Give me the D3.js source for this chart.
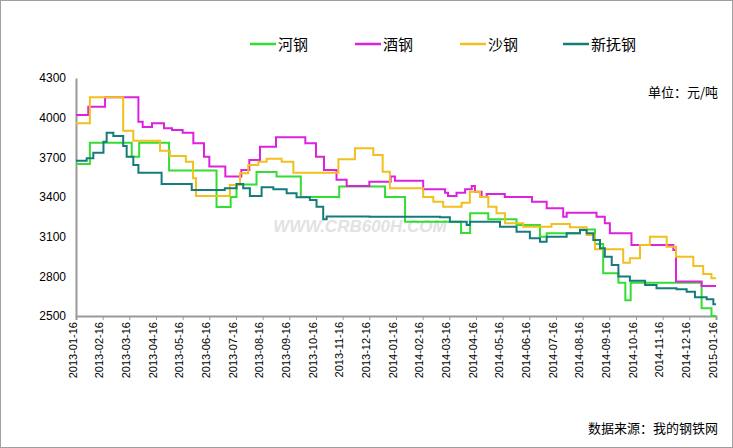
<!DOCTYPE html>
<html>
<head>
<meta charset="utf-8">
<script src="https://cdn.jsdelivr.net/npm/d3@7"></script>
<style>
  body { margin: 0; background: #fff; }
  svg { font-family: "SimSun", "Noto Sans CJK SC", sans-serif; }
</style>
</head>
<body>
<div id="chart"></div>
<script>
// x = month index from 2013-01-16, step-after series
const monthLabels = ["2013-01-16","2013-02-16","2013-03-16","2013-04-16","2013-05-16","2013-06-16","2013-07-16","2013-08-16","2013-09-16","2013-10-16","2013-11-16","2013-12-16","2014-01-16","2014-02-16","2014-03-16","2014-04-16","2014-05-16","2014-06-16","2014-07-16","2014-08-16","2014-09-16","2014-10-16","2014-11-16","2014-12-16","2015-01-16"];
const yTicks = [2500, 2800, 3100, 3400, 3700, 4000, 4300];

const hegang = [[0,3650],[0.52,3810],[2.09,3705],[2.37,3810],[3.49,3600],[5.27,3325],[5.8,3400],[6.02,3495],[6.77,3590],[7.52,3555],[8.43,3400],[9.87,3480],[11.59,3400],[12.34,3213],[14.44,3127],[14.78,3277],[15.46,3232],[16.52,3188],[17.4,3100],[17.65,3125],[18.9,3155],[19.46,3045],[19.77,2823],[20.34,2752],[20.6,2620],[20.8,2752],[23.46,2558],[23.83,2500],[24,2500]];
const jiugang = [[0,4020],[0.46,4083],[1.09,4154],[2.34,3970],[2.5,3930],[2.85,3957],[3.3,3920],[3.6,3907],[4.0,3886],[4.4,3806],[4.8,3705],[5.0,3630],[5.6,3555],[6.2,3604],[6.5,3680],[6.9,3780],[7.5,3852],[8.6,3806],[9.0,3705],[9.3,3604],[9.77,3530],[10.15,3483],[11.0,3516],[11.8,3555],[11.96,3523],[13.02,3458],[13.84,3433],[13.95,3408],[14.27,3433],[14.59,3458],[14.84,3483],[14.96,3440],[15.21,3400],[15.4,3423],[16.08,3400],[17.1,3365],[17.65,3315],[18.27,3250],[18.4,3281],[19.52,3250],[19.83,3201],[20.02,3125],[20.83,3037],[22.4,2999],[22.5,2760],[23.46,2727],[24,2727]];
const shagang = [[0,3957],[0.52,4154],[1.77,3901],[2.15,3826],[3.15,3750],[3.52,3710],[4.12,3667],[4.39,3541],[4.5,3408],[5.77,3491],[6.15,3579],[6.46,3642],[6.84,3667],[7.15,3690],[7.71,3667],[8.15,3584],[9.84,3685],[10.46,3768],[11.15,3718],[11.5,3591],[11.77,3466],[13.02,3400],[13.4,3365],[13.77,3327],[14.46,3357],[14.77,3440],[15.15,3400],[15.46,3327],[15.77,3277],[16.09,3201],[16.77,3175],[17.83,3196],[18.52,3171],[19.15,3113],[19.46,3005],[20.52,2903],[20.77,2936],[21.15,3037],[21.52,3100],[22.15,3024],[22.5,2949],[23.15,2878],[23.52,2818],[23.83,2785],[24,2785]];
const xinfugang = [[0,3675],[0.4,3693],[0.65,3735],[1.03,3818],[1.15,3886],[1.4,3861],[1.77,3786],[1.9,3705],[2.15,3642],[2.34,3584],[3.21,3498],[4.34,3453],[5.58,3466],[6.02,3498],[6.27,3466],[6.52,3408],[6.96,3474],[7.4,3458],[7.9,3428],[8.27,3398],[8.77,3377],[9.02,3327],[9.27,3232],[9.4,3252],[11.0,3250],[13.65,3247],[14.02,3213],[14.65,3188],[14.77,3213],[15.9,3175],[16.52,3138],[17.02,3088],[17.4,3062],[17.65,3100],[18.4,3125],[18.9,3150],[19.15,3125],[19.4,3075],[19.65,3012],[19.83,2949],[20.09,2886],[20.34,2798],[20.77,2767],[21.34,2734],[21.77,2710],[22.52,2702],[22.9,2684],[23.21,2642],[23.65,2627],[23.9,2589],[24,2589]];

const series = [
    { name: "河钢", color: "#33dd33", values: hegang },
    { name: "酒钢", color: "#dd22dd", values: jiugang },
    { name: "沙钢", color: "#f2c01e", values: shagang },
    { name: "新抚钢", color: "#167b7b", values: xinfugang }
];

const width = 733, height = 448;
const margin = { top: 78, right: 17, bottom: 132, left: 76 };

const svg = d3.select("#chart").append("svg")
    .attr("width", width)
    .attr("height", height);

svg.append("rect")
    .attr("x", 0.5).attr("y", 0.5)
    .attr("width", width - 1).attr("height", height - 1)
    .attr("fill", "#fff").attr("stroke", "#a0a0a0");

const x = d3.scaleLinear().domain([0, 24]).range([margin.left, width - margin.right]);
const y = d3.scaleLinear().domain([2500, 4300]).range([height - margin.bottom, margin.top]);

// watermark
svg.append("text")
    .attr("x", 360).attr("y", 232)
    .attr("text-anchor", "middle")
    .attr("font-family", "Arial, sans-serif")
    .attr("font-size", 17).attr("font-weight", "bold").attr("font-style", "italic")
    .attr("fill", "#e2e2e2")
    .text("WWW.CRB600H.COM");

// axes
const yAxis = svg.append("g")
    .attr("transform", `translate(${margin.left},0)`)
    .call(d3.axisLeft(y).tickValues(yTicks).tickSize(0).tickPadding(10).tickFormat(d3.format("d")));
yAxis.select(".domain").attr("stroke", "#999").attr("stroke-width", 2);
yAxis.selectAll("text").attr("font-size", 12).attr("fill", "#000").attr("font-family", "Arial, sans-serif");

const xAxis = svg.append("g")
    .attr("transform", `translate(0,${height - margin.bottom})`)
    .call(d3.axisBottom(x).tickValues(d3.range(monthLabels.length)).tickSize(4).tickFormat(i => monthLabels[i]));
xAxis.select(".domain").attr("stroke", "#999").attr("stroke-width", 2);
xAxis.selectAll("line").attr("stroke", "#999");
xAxis.selectAll("text")
    .attr("font-size", 11).attr("fill", "#000").attr("font-family", "Arial, sans-serif")
    .attr("transform", "rotate(-90)")
    .attr("text-anchor", "end")
    .attr("dx", "-6").attr("dy", "-0.25em")
    .attr("x", 0).attr("y", 0)
    .style("dominant-baseline", "middle");

// lines
const line = d3.line()
    .x(d => x(d[0]))
    .y(d => y(d[1]))
    .curve(d3.curveStepAfter);

series.forEach(s => {
    svg.append("path")
        .datum(s.values)
        .attr("fill", "none")
        .attr("stroke", s.color)
        .attr("stroke-width", 2)
        .attr("d", line);
});

// legend
const legendX = [250, 355, 460, 563];
series.forEach((s, i) => {
    const g = svg.append("g").attr("transform", `translate(${legendX[i]},44)`);
    g.append("line").attr("x1", 0).attr("x2", 26).attr("stroke", s.color).attr("stroke-width", 2.5);
    g.append("text").attr("x", 28).attr("y", 6).attr("font-size", 15).attr("fill", "#000").text(s.name);
});

svg.append("text")
    .attr("x", 718).attr("y", 97)
    .attr("text-anchor", "end").attr("font-size", 13)
    .text("单位：元/吨");

svg.append("text")
    .attr("x", 718).attr("y", 433)
    .attr("text-anchor", "end").attr("font-size", 13)
    .text("数据来源：我的钢铁网");
</script>
</body>
</html>
